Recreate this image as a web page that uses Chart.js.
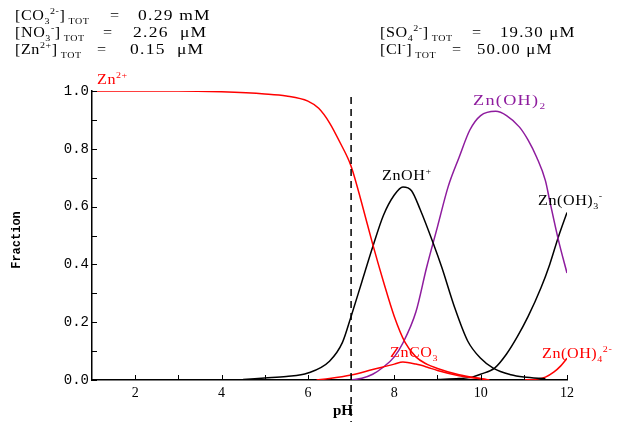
<!DOCTYPE html>
<html>
<head>
<meta charset="utf-8">
<script src="https://cdn.jsdelivr.net/npm/chart.js@4"></script>
<style>
  html, body { margin: 0; padding: 0; background: #fff; }
  #wrap { position: relative; width: 628px; height: 422px; }
</style>
</head>
<body>
<div id="wrap"><canvas id="speciesChart" width="628" height="422"></canvas></div>
<script>
// ===== Data =====
const xTicks = [2, 4, 6, 8, 10, 12];
const yTicks = [0, 0.2, 0.4, 0.6, 0.8, 1.0];

const znPH  = [1, 2, 3, 4, 5, 5.5, 6, 6.25, 6.5, 6.75, 7, 7.25, 7.5, 7.75, 8, 8.25, 8.5, 8.75, 9, 9.5, 10, 10.2];
const znVal = [1.0, 1.0, 1.0, 0.997, 0.99, 0.983, 0.965, 0.94, 0.89, 0.82, 0.74, 0.61, 0.47, 0.34, 0.22, 0.13, 0.08, 0.055, 0.04, 0.018, 0.005, 0.0];

const znohPH  = [4.5, 5, 5.5, 6, 6.5, 6.8, 7, 7.25, 7.5, 7.75, 8, 8.2, 8.4, 8.6, 8.9, 9.1, 9.4, 9.7, 10, 10.3, 10.7, 11, 11.5];
const znohVal = [0.002, 0.007, 0.012, 0.024, 0.065, 0.13, 0.22, 0.34, 0.46, 0.57, 0.64, 0.668, 0.655, 0.59, 0.474, 0.39, 0.25, 0.135, 0.075, 0.04, 0.018, 0.01, 0.004];

const znoh2PH  = [7, 7.25, 7.5, 7.75, 8, 8.2, 8.5, 8.75, 9, 9.25, 9.5, 9.75, 10, 10.35, 10.6, 10.9, 11.1, 11.3, 11.5, 11.6, 11.8, 12];
const znoh2Val = [0.0, 0.006, 0.02, 0.045, 0.08, 0.128, 0.235, 0.39, 0.53, 0.67, 0.77, 0.865, 0.915, 0.93, 0.915, 0.875, 0.83, 0.77, 0.69, 0.62, 0.485, 0.37];

const znoh3PH  = [9, 9.5, 9.8, 10, 10.33, 10.6, 10.85, 11.1, 11.4, 11.6, 11.8, 12];
const znoh3Val = [0.002, 0.005, 0.01, 0.02, 0.042, 0.09, 0.15, 0.22, 0.32, 0.4, 0.495, 0.58];

const znoh4PH  = [11, 11.3, 11.5, 11.7, 11.85, 12];
const znoh4Val = [0.0, 0.003, 0.01, 0.028, 0.048, 0.075];

const znco3PH  = [6.2, 6.5, 7, 7.5, 8, 8.2, 8.5, 8.75, 9, 9.5, 10, 10.2];
const znco3Val = [0.0, 0.005, 0.017, 0.036, 0.055, 0.062, 0.055, 0.045, 0.033, 0.015, 0.004, 0.0];

const markerPH = 7; // dashed line

const RED = "#ff0000";
const PURPLE = "#8e1c9e";
const SERIF = "'Liberation Serif', 'DejaVu Serif', serif";
const MONO = "'Liberation Mono', 'DejaVu Sans Mono', monospace";

function pts(xs, ys) {
  return xs.map((x, i) => ({ x: x, y: ys[i] }));
}

function series(label, xs, ys, color) {
  return {
    label: label,
    data: pts(xs, ys),
    borderColor: color,
    borderWidth: 1.5,
    pointRadius: 0,
    fill: false,
    cubicInterpolationMode: "monotone",
  };
}

// draw text with sub/superscript parts: [text, "n" | "sub" | "sup"]
function drawRich(ctx, x, y, parts, size, color, sx = 1.15, spacing = 0.5) {
  ctx.save();
  ctx.translate(x, y);
  ctx.scale(sx, 1);
  ctx.fillStyle = color;
  ctx.textBaseline = "alphabetic";
  ctx.textAlign = "left";
  ctx.letterSpacing = spacing + "px";
  let cx = 0;
  parts.forEach(([txt, mode]) => {
    let s = size, dy = 0;
    if (mode === "sub") { s = size * 0.62; dy = size * 0.3; }
    if (mode === "sup") { s = size * 0.62; dy = -size * 0.42; }
    ctx.font = s + "px " + SERIF;
    ctx.fillText(txt, cx, dy);
    cx += ctx.measureText(txt).width;
  });
  ctx.restore();
}

// ===== Extra drawing: ticks, dashed line, labels, header =====
const decorPlugin = {
  id: "decor",
  afterDraw(chart) {
    const ctx = chart.ctx;
    const xs = chart.scales.x, ys = chart.scales.y;
    const left = chart.chartArea.left, bottom = chart.chartArea.bottom;

    // inside tick marks
    ctx.save();
    ctx.strokeStyle = "#000";
    ctx.lineWidth = 1;
    for (let v = 0; v <= 1.0001; v += 0.1) {
      const py = Math.round(ys.getPixelForValue(v)) + 0.5;
      ctx.beginPath(); ctx.moveTo(left, py); ctx.lineTo(left + 5, py); ctx.stroke();
    }
    for (let p = 2; p <= 12; p++) {
      const px = Math.round(xs.getPixelForValue(p)) + 0.5;
      ctx.beginPath(); ctx.moveTo(px, bottom); ctx.lineTo(px, bottom - 5); ctx.stroke();
    }

    // dashed pH marker
    const mx = xs.getPixelForValue(markerPH);
    ctx.setLineDash([7, 5]);
    ctx.lineWidth = 1.5;
    ctx.beginPath(); ctx.moveTo(mx, 97); ctx.lineTo(mx, 422); ctx.stroke();
    ctx.setLineDash([]);

    // axis titles
    ctx.fillStyle = "#000";
    ctx.font = "bold 15px " + SERIF;
    ctx.textAlign = "left";
    ctx.fillText("pH", 333, 415);
    ctx.translate(20, 240);
    ctx.rotate(-Math.PI / 2);
    ctx.textAlign = "center";
    ctx.font = "bold 12px " + MONO;
    ctx.fillText("Fraction", 0, 0);
    ctx.restore();

    // species labels
    drawRich(ctx, 97, 84, [["Zn", "n"], ["2+", "sup"]], 14, RED);
    drawRich(ctx, 382, 180, [["ZnOH", "n"], ["+", "sup"]], 14, "#000");
    drawRich(ctx, 473, 105, [["Zn(OH)", "n"], ["2", "sub"]], 14, PURPLE, 1.3, 1);
    drawRich(ctx, 538, 205, [["Zn(OH)", "n"], ["3", "sub"], ["-", "sup"]], 14, "#000");
    drawRich(ctx, 390, 357, [["ZnCO", "n"], ["3", "sub"]], 14, RED);
    drawRich(ctx, 542, 358, [["Zn(OH)", "n"], ["4", "sub"], ["2-", "sup"]], 14, RED);

    // header concentrations
    const H = 14;
    drawRich(ctx, 15, 20, [["[CO", "n"], ["3", "sub"], ["2-", "sup"], ["]", "n"], [" TOT", "sub"]], H, "#000");
    drawRich(ctx, 110, 20, [["=", "n"]], H, "#000");
    drawRich(ctx, 138, 20, [["0.29 mM", "n"]], H, "#000", 1.25, 1);
    drawRich(ctx, 15, 37, [["[NO", "n"], ["3", "sub"], ["-", "sup"], ["]", "n"], [" TOT", "sub"]], H, "#000");
    drawRich(ctx, 103, 37, [["=", "n"]], H, "#000");
    drawRich(ctx, 133, 37, [["2.26  \u03bcM", "n"]], H, "#000", 1.25, 1);
    drawRich(ctx, 15, 54, [["[Zn", "n"], ["2+", "sup"], ["]", "n"], [" TOT", "sub"]], H, "#000");
    drawRich(ctx, 97, 54, [["=", "n"]], H, "#000");
    drawRich(ctx, 130, 54, [["0.15  \u03bcM", "n"]], H, "#000", 1.25, 1);
    drawRich(ctx, 380, 37, [["[SO", "n"], ["4", "sub"], ["2-", "sup"], ["]", "n"], [" TOT", "sub"]], H, "#000");
    drawRich(ctx, 472, 37, [["=", "n"]], H, "#000");
    drawRich(ctx, 500, 37, [["19.30 \u03bcM", "n"]], H, "#000", 1.2, 1);
    drawRich(ctx, 380, 54, [["[Cl", "n"], ["-", "sup"], ["]", "n"], [" TOT", "sub"]], H, "#000");
    drawRich(ctx, 452, 54, [["=", "n"]], H, "#000");
    drawRich(ctx, 477, 54, [["50.00 \u03bcM", "n"]], H, "#000", 1.2, 1);
  },
};

const ctx = document.getElementById("speciesChart").getContext("2d");
const speciesChart = new Chart(ctx, {
  type: "line",
  data: {
    datasets: [
      series("Zn2+", znPH, znVal, RED),
      series("ZnCO3", znco3PH, znco3Val, RED),
      series("ZnOH+", znohPH, znohVal, "#000"),
      series("Zn(OH)2", znoh2PH, znoh2Val, PURPLE),
      series("Zn(OH)3-", znoh3PH, znoh3Val, "#000"),
      series("Zn(OH)4 2-", znoh4PH, znoh4Val, RED),
    ],
  },
  options: {
    responsive: false,
    animation: false,
    layout: { padding: { left: 0, top: 91, right: 61, bottom: 0 } },
    plugins: {
      legend: { display: false },
      tooltip: { enabled: false },
    },
    scales: {
      x: {
        type: "linear",
        min: 1,
        max: 12,
        afterBuildTicks: (s) => { s.ticks = xTicks.map((v) => ({ value: v })); },
        afterFit: (s) => { s.height = 42; },
        grid: { display: false, drawTicks: false },
        border: { display: true, color: "#000", width: 1.5 },
        ticks: {
          color: "#000",
          padding: 5,
          font: { family: SERIF, size: 14 },
        },
      },
      y: {
        type: "linear",
        min: 0,
        max: 1,
        afterBuildTicks: (s) => { s.ticks = yTicks.map((v) => ({ value: v })); },
        afterFit: (s) => { s.width = 92; },
        grid: { display: false, drawTicks: false },
        border: { display: true, color: "#000", width: 1.5 },
        ticks: {
          color: "#000",
          padding: 3,
          font: { family: MONO, size: 14 },
          callback: (v) => Number(v).toFixed(1),
        },
      },
    },
  },
  plugins: [decorPlugin],
});
</script>
</body>
</html>
